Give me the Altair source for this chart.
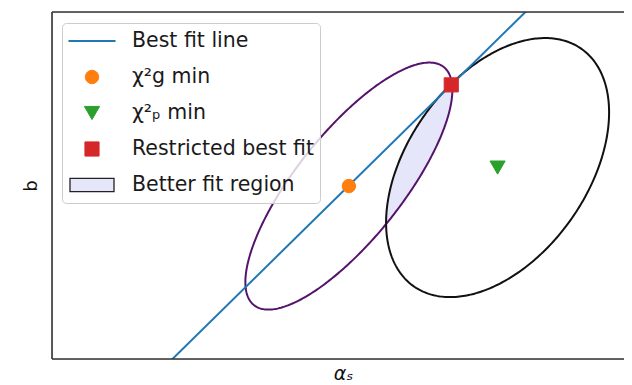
import numpy as np
import pandas as pd
import altair as alt

# ---------------- data (abstract units; the axes carry no ticks) ----------------
# best fit line (two end points, clipped to the frame)
fit_line_x = [1.9, 8.4]
fit_line_y = [-0.2, 6.12]

# markers
marker_labels = ["χ²g min", "χ²ₚ min", "Restricted best fit"]
marker_x = [5.19, 7.79, 6.98]
marker_y = [2.99, 3.31, 4.74]

# confidence contours (centre, variances, covariance)
ellipse_names = ["g", "p"]
ellipse_cx = [5.19, 7.79]
ellipse_cy = [2.99, 3.31]
ellipse_var_x = [3.274, 3.800]
ellipse_var_y = [4.561, 5.015]
ellipse_cov = [3.004, 1.859]
ellipse_colors = ["#55146b", "#111111"]

# legend entries
legend_labels = ["Best fit line", "χ²g min", "χ²ₚ min", "Restricted best fit", "Better fit region"]
legend_fill = ["#1f77b4", "#ff7f0e", "#2ca02c", "#d62728", "#e6e6fa"]
legend_stroke = ["#1f77b4", "#ff7f0e", "#2ca02c", "#d62728", "#222222"]
legend_shape = ["stroke", "circle", "triangle-down", "square", "M-1,-0.3H1V0.3H-1Z"]
legend_size = [2209, 180, 230, 200, 1936]
legend_sw = [2.2, 1, 1, 1, 1.3]

W, H = 572, 347
XD, YD = [0, 10], [0, 6]

# ---------------- build geometry from the contour parameters ----------------
t = np.linspace(0, 2 * np.pi, 361)
ell_frames = []
for i, name in enumerate(ellipse_names):
    S = np.array([[ellipse_var_x[i], ellipse_cov[i]], [ellipse_cov[i], ellipse_var_y[i]]])
    L = np.linalg.cholesky(S)
    pts = L @ np.vstack([np.cos(t), np.sin(t)])
    ell_frames.append(pd.DataFrame({
        "x": ellipse_cx[i] + pts[0], "y": ellipse_cy[i] + pts[1],
        "t": np.arange(len(t)), "name": name}))


def y_range(i, xs):
    vx, vy, c = ellipse_var_x[i], ellipse_var_y[i], ellipse_cov[i]
    dx = xs - ellipse_cx[i]
    mid = ellipse_cy[i] + c / vx * dx
    half = np.sqrt(np.clip((vy - c * c / vx) * (1 - dx * dx / vx), 0, None))
    inside = dx * dx <= vx
    return mid - half, mid + half, inside


x_lo = max(ellipse_cx[i] - np.sqrt(ellipse_var_x[i]) for i in range(2))
x_hi = min(ellipse_cx[i] + np.sqrt(ellipse_var_x[i]) for i in range(2))
xs = np.linspace(x_lo, x_hi, 600)
lo0, hi0, in0 = y_range(0, xs)
lo1, hi1, in1 = y_range(1, xs)
lo = np.maximum(lo0, lo1)
hi = np.minimum(hi0, hi1)
ok = in0 & in1 & (hi > lo)
region = pd.DataFrame({"x": xs[ok], "lo": lo[ok], "hi": hi[ok]})

xs_ = alt.Scale(domain=XD, nice=False, zero=False)
ys_ = alt.Scale(domain=YD, nice=False, zero=False)
xax = alt.Axis(title="αₛ", domain=False, ticks=False, labels=False, grid=False,
               titleFont="DejaVu Sans", titleFontStyle="italic", titleFontSize=19,
               titleFontWeight="normal", titleColor="#111", titlePadding=5, titleX=291)
yax = alt.Axis(title="b", domain=False, ticks=False, labels=False, grid=False,
               titleFont="DejaVu Sans", titleFontSize=18, titleFontWeight="normal",
               titleColor="#111", titlePadding=12)

X = alt.X("x:Q", scale=xs_, axis=xax)
Y = alt.Y("y:Q", scale=ys_, axis=yax)

area = alt.Chart(region).mark_area(color="#e6e6fa", opacity=1).encode(
    x=alt.X("x:Q", scale=xs_, axis=xax),
    y=alt.Y("hi:Q", scale=ys_, axis=yax),
    y2="lo:Q",
)

ell_layers = []
for i, f in enumerate(ell_frames):
    ell_layers.append(
        alt.Chart(f).mark_line(color=ellipse_colors[i], strokeWidth=2).encode(
            x=X, y=Y, order="t:Q"))

line_df = pd.DataFrame({"x": fit_line_x, "y": fit_line_y})
fit = alt.Chart(line_df).mark_line(color="#1f77b4", strokeWidth=2, clip=True).encode(x=X, y=Y)

leg = alt.Legend(title=None, orient="none", legendX=10, legendY=11, padding=5,
                 clipHeight=26, rowPadding=10, labelOffset=15, labelLimit=400,
                 labelFont="DejaVu Sans", labelFontSize=20.5, labelColor="#1a1a1a",
                 fillColor="rgba(255,255,255,0.8)", strokeColor="#cccccc",
                 cornerRadius=4, zindex=1)

mk_df = pd.DataFrame({"x": marker_x, "y": marker_y, "label": marker_labels})
points = alt.Chart(mk_df).mark_point(opacity=1, filled=False).encode(
    x=X, y=Y,
    fill=alt.Fill("label:N", scale=alt.Scale(domain=legend_labels, range=legend_fill), legend=leg),
    stroke=alt.Stroke("label:N", scale=alt.Scale(domain=legend_labels, range=legend_stroke), legend=leg),
    shape=alt.Shape("label:N", scale=alt.Scale(domain=legend_labels, range=legend_shape), legend=leg),
    size=alt.Size("label:N", scale=alt.Scale(type="ordinal", domain=legend_labels, range=legend_size), legend=leg),
    strokeWidth=alt.StrokeWidth("label:N", scale=alt.Scale(type="ordinal", domain=legend_labels, range=legend_sw), legend=leg),
)

frame_src = pd.DataFrame({"k": [0]})
frame_top = alt.Chart(frame_src).mark_rule(color="#333", strokeWidth=1.6).encode(
    x=alt.value(0), x2=alt.value(W), y=alt.value(0))
frame_bot = alt.Chart(frame_src).mark_rule(color="#333", strokeWidth=1.6).encode(
    x=alt.value(0), x2=alt.value(W), y=alt.value(H))
frame_left = alt.Chart(frame_src).mark_rule(color="#333", strokeWidth=1.6).encode(
    x=alt.value(0), y=alt.value(0), y2=alt.value(H))

chart = alt.layer(area, *ell_layers, fit, points, frame_top, frame_bot, frame_left).properties(
    width=W, height=H,
    autosize=alt.AutoSizeParams(type="none"),
    padding={"left": 44, "top": 4, "right": 0, "bottom": 24},
).configure_view(strokeWidth=0).configure(background="white")

chart.save("out.html", embed_options={"renderer": "svg", "actions": False})
